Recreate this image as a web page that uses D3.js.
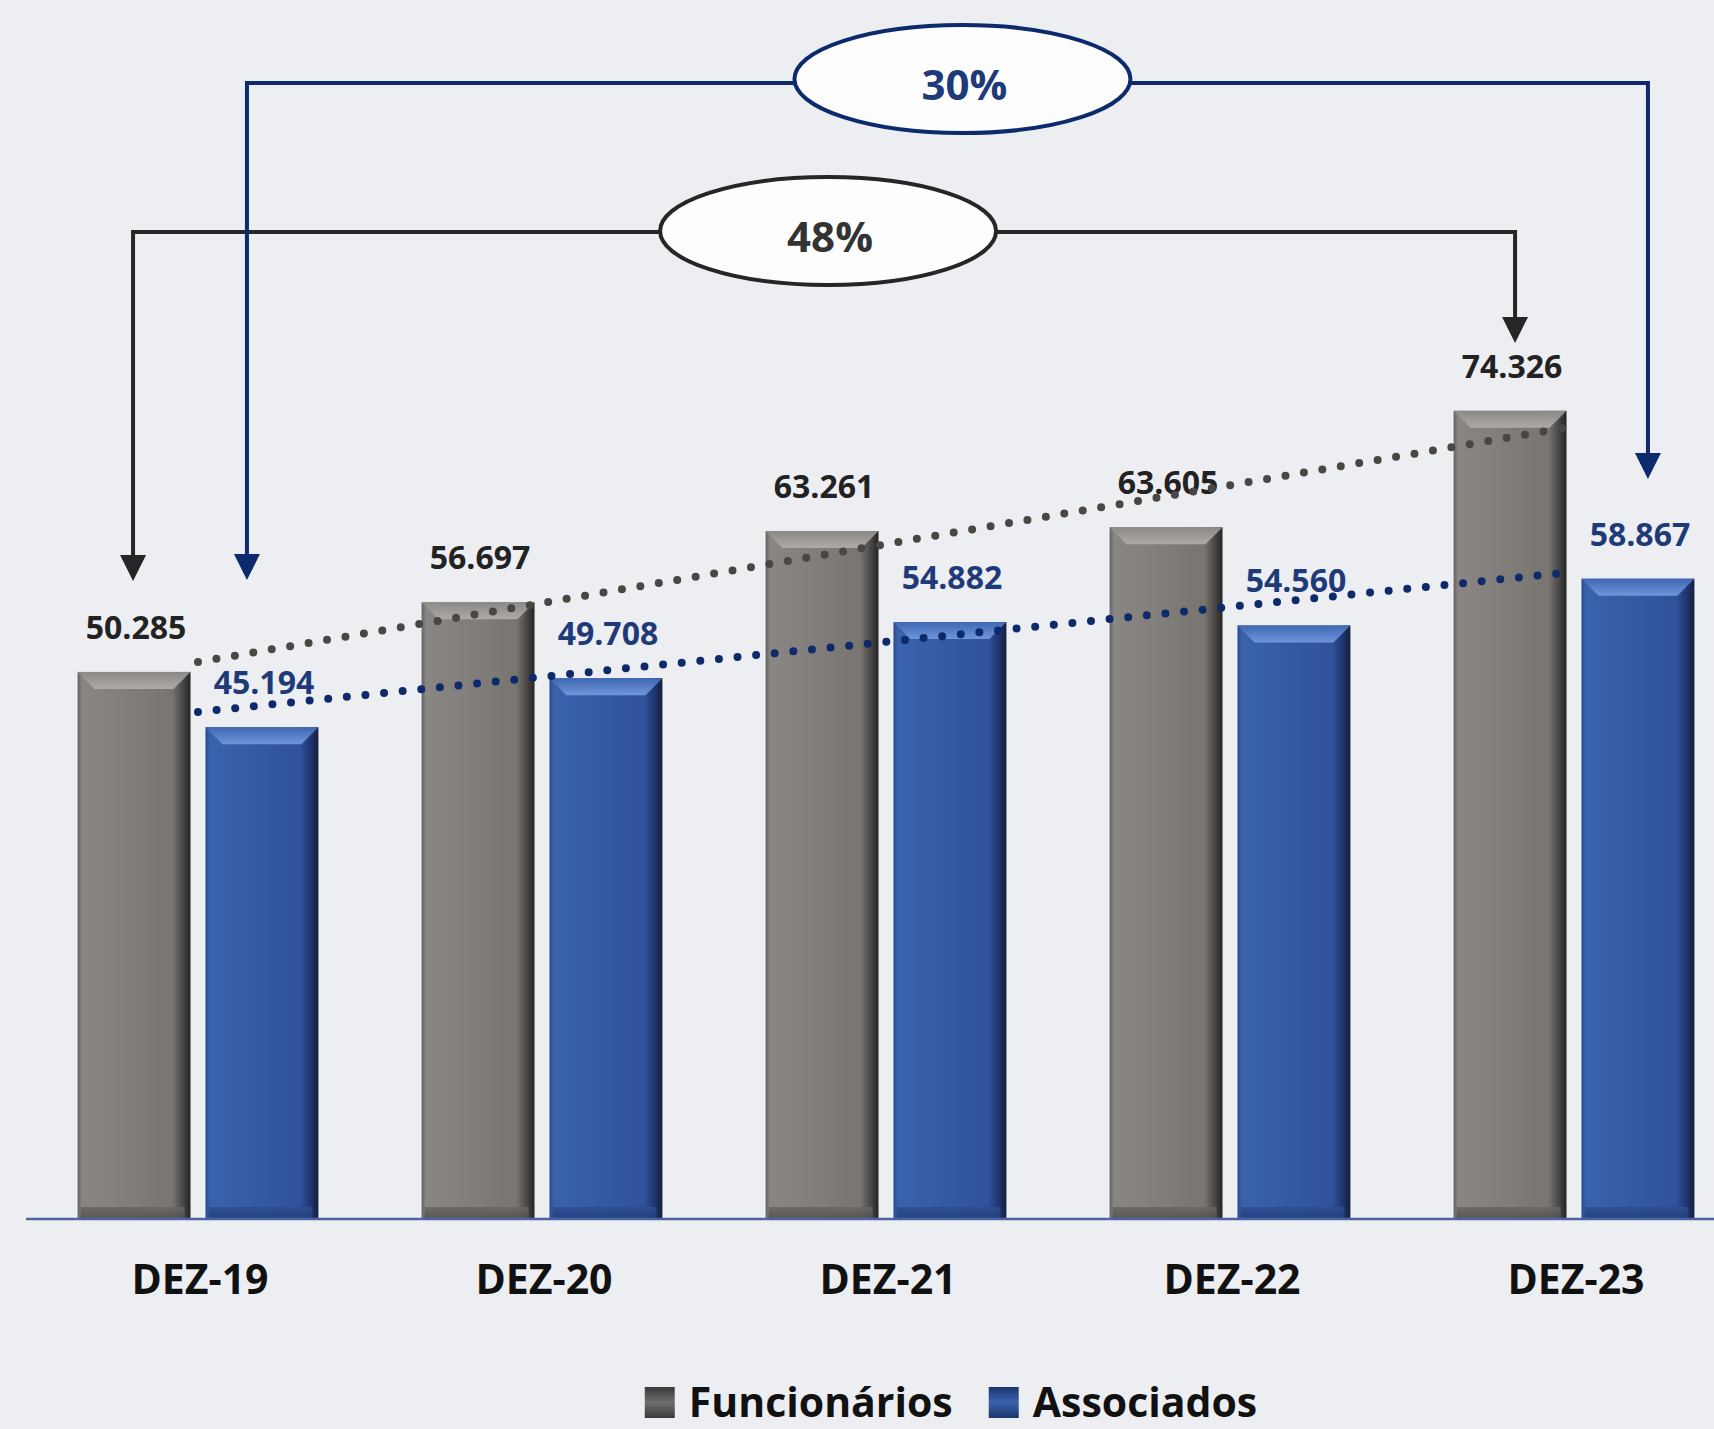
<!DOCTYPE html>
<html lang="pt">
<head>
    <meta charset="UTF-8">
    <title>Funcionários e Associados</title>
    <script src="https://d3js.org/d3.v7.min.js"></script>
    <style>
        body { margin: 0; background: #eceef2; }
        svg { display: block; }
        text { font-family: "Open Sans", "DejaVu Sans", sans-serif; font-weight: 700; }
    </style>
</head>
<body>
    <div id="chart"></div>

    <script>
        // data
        const categories = ["DEZ-19", "DEZ-20", "DEZ-21", "DEZ-22", "DEZ-23"];
        const series = ["Funcionários", "Associados"];
        const funcionarios = [50285, 56697, 63261, 63605, 74326];
        const associados = [45194, 49708, 54882, 54560, 58867];
        // dotted trend lines: value at first and last category
        const trendFuncionarios = [51200, 72900];
        const trendAssociados = [46600, 59500];
        const growthLabels = ["48%", "30%"];

        const width = 1714, height = 1429;

        const colors = {
            "Funcionários": { base: "#7f7b78", label: "#222222", dot: "#4a4643", line: "#262626" },
            "Associados": { base: "#3459a1", label: "#1f3a78", dot: "#0f2a6a", line: "#0d2a6e" }
        };

        const svg = d3.select("#chart")
            .append("svg")
            .attr("width", width)
            .attr("height", height);

        svg.append("rect")
            .attr("width", width)
            .attr("height", height)
            .attr("fill", "#eceef2");

        const x0 = d3.scaleBand()
            .domain(categories)
            .range([26, 1746])
            .paddingInner(0.3)
            .paddingOuter(0.15);

        const x1 = d3.scaleBand()
            .domain(series)
            .range([0, x0.bandwidth()])
            .paddingInner(0.117);

        const y = d3.scaleLinear()
            .domain([0, 100000])
            .range([1218, 132]);

        // gradients for the bevelled bars
        const defs = svg.append("defs");

        function hGrad(id, stops) {
            const g = defs.append("linearGradient").attr("id", id)
                .attr("x1", 0).attr("x2", 1).attr("y1", 0).attr("y2", 0);
            stops.forEach(s => g.append("stop").attr("offset", s[0]).attr("stop-color", s[1]));
        }
        function vGrad(id, stops) {
            const g = defs.append("linearGradient").attr("id", id)
                .attr("x1", 0).attr("x2", 0).attr("y1", 0).attr("y2", 1);
            stops.forEach(s => g.append("stop").attr("offset", s[0]).attr("stop-color", s[1]));
        }

        hGrad("body-0", [["0%", "#66625f"], ["4%", "#8a8683"], ["50%", "#807c79"], ["84%", "#78746f"], ["93%", "#4a4846"], ["100%", "#242424"]]);
        hGrad("body-1", [["0%", "#284a8c"], ["4%", "#3a62ac"], ["50%", "#3459a1"], ["84%", "#30529a"], ["93%", "#1f3670"], ["100%", "#131f3c"]]);
        vGrad("top-0", [["0%", "#8c8885"], ["100%", "#aeaaa7"]]);
        vGrad("top-1", [["0%", "#3f67b2"], ["100%", "#6f96da"]]);
        vGrad("bot-0", [["0%", "#6a6663"], ["100%", "#55514e"]]);
        vGrad("bot-1", [["0%", "#2c4d90"], ["100%", "#22407c"]]);
        vGrad("sw-0", [["0%", "#3a3a3a"], ["50%", "#6e6e6e"], ["100%", "#3a3a3a"]]);
        vGrad("sw-1", [["0%", "#1c356e"], ["50%", "#3a62ac"], ["100%", "#1c356e"]]);

        const rows = categories.map((c, i) => ({
            cat: c,
            values: [
                { key: series[0], idx: 0, value: funcionarios[i] },
                { key: series[1], idx: 1, value: associados[i] }
            ]
        }));

        const bevel = 17;
        const bw = x1.bandwidth();

        const groups = svg.append("g").selectAll("g")
            .data(rows)
            .join("g")
            .attr("transform", d => `translate(${x0(d.cat)},0)`);

        const bars = groups.selectAll("g.bar")
            .data(d => d.values)
            .join("g")
            .attr("class", "bar");

        bars.append("rect")
            .attr("x", d => x1(d.key))
            .attr("y", d => y(d.value))
            .attr("width", bw)
            .attr("height", d => y(0) - y(d.value))
            .attr("fill", d => `url(#body-${d.idx})`);

        // top bevel
        bars.append("path")
            .attr("d", d => {
                const l = x1(d.key), r = l + bw, t = y(d.value);
                return `M${l},${t}L${r},${t}L${r - bevel},${t + bevel}L${l + bevel},${t + bevel}Z`;
            })
            .attr("fill", d => `url(#top-${d.idx})`);

        // bottom bevel
        bars.append("path")
            .attr("d", d => {
                const l = x1(d.key), r = l + bw, b = y(0);
                return `M${l + 3},${b}L${r - 6},${b}L${r - 6},${b - 11}L${l + 3},${b - 11}Z`;
            })
            .attr("fill", d => `url(#bot-${d.idx})`)
            .attr("opacity", 0.85);

        // axis line
        svg.append("line")
            .attr("x1", x0.range()[0])
            .attr("x2", width)
            .attr("y1", y(0) + 1)
            .attr("y2", y(0) + 1)
            .attr("stroke", "#4d64a3")
            .attr("stroke-width", 2.5);

        // category labels
        svg.append("g").selectAll("text")
            .data(categories)
            .join("text")
            .attr("x", d => x0(d) + x0.bandwidth() / 2 + 2)
            .attr("y", 1294)
            .attr("text-anchor", "middle")
            .attr("font-size", 41)
            .attr("fill", "#111")
            .text(d => d);

        // value labels
        const fmt = v => d3.format(",")(v).replace(/,/g, ".");
        bars.append("text")
            .attr("x", d => x1(d.key) + bw / 2 + 2)
            .attr("y", d => y(d.value) - 33)
            .attr("text-anchor", "middle")
            .attr("font-size", 32)
            .attr("fill", d => colors[d.key].label)
            .text(d => fmt(d.value));

        // dotted trend lines
        const first = x0(categories[0]) + x0.bandwidth() / 2;
        const last = x0(categories[categories.length - 1]) + x0.bandwidth() / 2;
        const line = d3.line().x(d => d[0]).y(d => y(d[1]));
        [[trendFuncionarios, series[0]], [trendAssociados, series[1]]].forEach(([t, key]) => {
            svg.append("path")
                .attr("d", line([[first, t[0]], [last, t[1]]]))
                .attr("fill", "none")
                .attr("stroke", colors[key].dot)
                .attr("stroke-width", 8)
                .attr("stroke-linecap", "round")
                .attr("stroke-dasharray", "0 18.7");
        });

        // growth connectors (Funcionários first, then Associados on top)
        const notes = [
            { label: growthLabels[0], key: series[0], level: 232, dxFrom: -1, dxTo: 5, tipFrom: 581, tipTo: 343, dxEll: 4, cy: 231 },
            { label: growthLabels[1], key: series[1], level: 83, dxFrom: -15, dxTo: 10, tipFrom: 580, tipTo: 479, dxEll: 15, cy: 79 }
        ];

        notes.forEach(n => {
            const c = colors[n.key].line;
            const xa = x0(categories[0]) + x1(n.key) + bw / 2 + n.dxFrom;
            const xb = x0(categories[categories.length - 1]) + x1(n.key) + bw / 2 + n.dxTo;
            const g = svg.append("g");
            g.append("path")
                .attr("d", `M${xa},${n.tipFrom - 20}L${xa},${n.level}L${xb},${n.level}L${xb},${n.tipTo - 20}`)
                .attr("fill", "none")
                .attr("stroke", c)
                .attr("stroke-width", 4);
            [[xa, n.tipFrom], [xb, n.tipTo]].forEach(([ax, ay]) => {
                g.append("path")
                    .attr("d", `M${ax - 13},${ay - 26}L${ax + 13},${ay - 26}L${ax},${ay}Z`)
                    .attr("fill", c);
            });
            const cx = (xa + xb) / 2 + n.dxEll;
            g.append("ellipse")
                .attr("cx", cx)
                .attr("cy", n.cy)
                .attr("rx", 168)
                .attr("ry", 54)
                .attr("fill", "#fdfdfd")
                .attr("stroke", c)
                .attr("stroke-width", 4);
            g.append("text")
                .attr("x", cx + 2)
                .attr("y", n.cy + 21)
                .attr("text-anchor", "middle")
                .attr("font-size", 42)
                .attr("fill", n.key === series[0] ? "#333" : "#1f3a78")
                .text(n.label);
        });

        // legend
        const legend = svg.append("g");
        let lx = 0;
        series.forEach((s, i) => {
            const item = legend.append("g").attr("transform", `translate(${lx},0)`);
            item.append("rect")
                .attr("x", 0).attr("y", -30)
                .attr("width", 30).attr("height", 31)
                .attr("fill", `url(#sw-${i})`);
            const t = item.append("text")
                .attr("x", 44)
                .attr("y", 0)
                .attr("font-size", 41)
                .attr("fill", "#111")
                .text(s);
            lx += 44 + t.node().getComputedTextLength() + 36;
        });
        const lw = lx - 36;
        legend.attr("transform", `translate(${951 - lw / 2},1417)`);
    </script>
</body>
</html>
